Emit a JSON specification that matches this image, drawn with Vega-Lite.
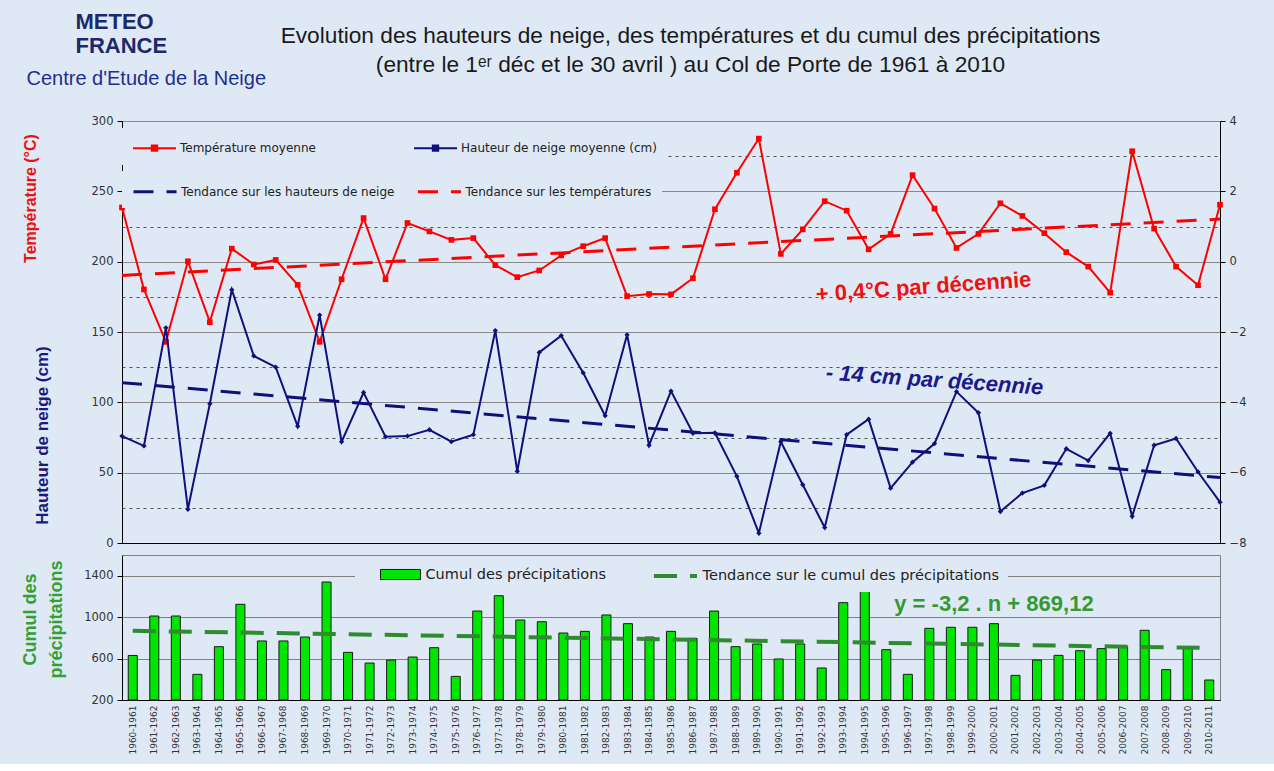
{
  "$schema": "https://vega.github.io/schema/vega-lite/v6.json",
  "background": "#dfe9f5",
  "padding": {"left": 20, "top": 9, "right": 28, "bottom": 9},
  "config": {
    "font": "Liberation Sans",
    "view": {"stroke": "#808080", "strokeWidth": 1},
    "axis": {"labelFont": "DejaVu Sans", "labelFontSize": 11.5, "labelColor": "#333333", "domainColor": "#000000", "tickColor": "#000000", "gridColor": "#8a8a8a", "tickSize": 5, "labelPadding": 4}
  },
  "datasets": {
    "seasons": [
      {"season": "1960-1961", "i": 0, "snow": 76, "temp": 1.54, "precip": 630},
      {"season": "1961-1962", "i": 1, "snow": 69, "temp": -0.79, "precip": 1011},
      {"season": "1962-1963", "i": 2, "snow": 153, "temp": -2.28, "precip": 1011},
      {"season": "1963-1964", "i": 3, "snow": 24, "temp": 0.01, "precip": 448},
      {"season": "1964-1965", "i": 4, "snow": 99, "temp": -1.72, "precip": 715},
      {"season": "1965-1966", "i": 5, "snow": 180, "temp": 0.37, "precip": 1124},
      {"season": "1966-1967", "i": 6, "snow": 133, "temp": -0.08, "precip": 770},
      {"season": "1967-1968", "i": 7, "snow": 125, "temp": 0.05, "precip": 770},
      {"season": "1968-1969", "i": 8, "snow": 83, "temp": -0.66, "precip": 808},
      {"season": "1969-1970", "i": 9, "snow": 162, "temp": -2.28, "precip": 1339},
      {"season": "1970-1971", "i": 10, "snow": 72, "temp": -0.5, "precip": 660},
      {"season": "1971-1972", "i": 11, "snow": 107, "temp": 1.24, "precip": 557},
      {"season": "1972-1973", "i": 12, "snow": 75.5, "temp": -0.5, "precip": 586},
      {"season": "1973-1974", "i": 13, "snow": 76, "temp": 1.1, "precip": 615},
      {"season": "1974-1975", "i": 14, "snow": 80.5, "temp": 0.86, "precip": 705},
      {"season": "1975-1976", "i": 15, "snow": 72, "temp": 0.62, "precip": 428},
      {"season": "1976-1977", "i": 16, "snow": 77, "temp": 0.67, "precip": 1059},
      {"season": "1977-1978", "i": 17, "snow": 151, "temp": -0.1, "precip": 1207},
      {"season": "1978-1979", "i": 18, "snow": 51, "temp": -0.44, "precip": 972},
      {"season": "1979-1980", "i": 19, "snow": 135.5, "temp": -0.25, "precip": 956},
      {"season": "1980-1981", "i": 20, "snow": 147.4, "temp": 0.18, "precip": 847},
      {"season": "1981-1982", "i": 21, "snow": 121, "temp": 0.44, "precip": 863},
      {"season": "1982-1983", "i": 22, "snow": 90.5, "temp": 0.67, "precip": 1021},
      {"season": "1983-1984", "i": 23, "snow": 148, "temp": -0.98, "precip": 937},
      {"season": "1984-1985", "i": 24, "snow": 69.5, "temp": -0.92, "precip": 808},
      {"season": "1985-1986", "i": 25, "snow": 108, "temp": -0.93, "precip": 863},
      {"season": "1986-1987", "i": 26, "snow": 78, "temp": -0.47, "precip": 795},
      {"season": "1987-1988", "i": 27, "snow": 78.3, "temp": 1.49, "precip": 1059},
      {"season": "1988-1989", "i": 28, "snow": 47.4, "temp": 2.53, "precip": 715},
      {"season": "1989-1990", "i": 29, "snow": 7, "temp": 3.5, "precip": 741},
      {"season": "1990-1991", "i": 30, "snow": 72, "temp": 0.22, "precip": 596},
      {"season": "1991-1992", "i": 31, "snow": 41.4, "temp": 0.92, "precip": 741},
      {"season": "1992-1993", "i": 32, "snow": 11, "temp": 1.72, "precip": 509},
      {"season": "1993-1994", "i": 33, "snow": 77, "temp": 1.45, "precip": 1140},
      {"season": "1994-1995", "i": 34, "snow": 88, "temp": 0.35, "precip": 1300},
      {"season": "1995-1996", "i": 35, "snow": 39, "temp": 0.79, "precip": 686},
      {"season": "1996-1997", "i": 36, "snow": 57.5, "temp": 2.46, "precip": 448},
      {"season": "1997-1998", "i": 37, "snow": 70.7, "temp": 1.51, "precip": 892},
      {"season": "1998-1999", "i": 38, "snow": 107.6, "temp": 0.39, "precip": 902},
      {"season": "1999-2000", "i": 39, "snow": 92.6, "temp": 0.79, "precip": 902},
      {"season": "2000-2001", "i": 40, "snow": 22.4, "temp": 1.66, "precip": 937},
      {"season": "2001-2002", "i": 41, "snow": 35.5, "temp": 1.3, "precip": 438},
      {"season": "2002-2003", "i": 42, "snow": 41, "temp": 0.81, "precip": 586},
      {"season": "2003-2004", "i": 43, "snow": 67, "temp": 0.27, "precip": 631},
      {"season": "2004-2005", "i": 44, "snow": 58.6, "temp": -0.14, "precip": 676},
      {"season": "2005-2006", "i": 45, "snow": 78, "temp": -0.88, "precip": 696},
      {"season": "2006-2007", "i": 46, "snow": 19, "temp": 3.14, "precip": 715},
      {"season": "2007-2008", "i": 47, "snow": 69.5, "temp": 0.94, "precip": 873},
      {"season": "2008-2009", "i": 48, "snow": 74.3, "temp": -0.14, "precip": 493},
      {"season": "2009-2010", "i": 49, "snow": 50.5, "temp": -0.67, "precip": 715},
      {"season": "2010-2011", "i": 50, "snow": 29, "temp": 1.62, "precip": 393}
    ],
    "trendTop": [
      {"i": 0, "snowTrend": 114, "tempTrend": -0.39},
      {"i": 50, "snowTrend": 46.5, "tempTrend": 1.21}
    ],
    "trendPrecip": [
      {"season": "1960-1961", "v": 868},
      {"season": "2010-2011", "v": 702}
    ],
    "noteTemp": [{"i": 36.5, "temp": -0.72, "label": "+ 0,4°C par décennie"}],
    "noteSnow": [{"i": 37, "snow": 115.8, "label": "- 14 cm  par décennie"}],
    "noteEq": [{"season": "2000-2001", "precip": 1129, "label": "y = -3,2 . n + 869,12"}]
  },
  "spacing": 12,
  "bounds": "flush",
  "resolve": {"scale": {"color": "independent", "stroke": "independent"}, "legend": {"color": "independent", "stroke": "independent"}},
  "vconcat": [
    {
      "width": 1098,
      "height": 422,
      "resolve": {"scale": {"y": "independent"}, "axis": {"x": "independent"}},
      "layer": [
        {
          "data": {"name": "seasons"},
          "mark": {"type": "line", "strokeWidth": 2, "point": {"shape": "square", "filled": true, "size": 32}},
          "encoding": {
            "x": {"field": "i", "type": "quantitative", "scale": {"domain": [0, 50], "nice": false, "zero": false},
              "axis": {"orient": "top", "labels": false, "ticks": false, "domain": false, "grid": false,
                "title": ["METEO", "FRANCE"], "titleFont": "Liberation Sans", "titleFontSize": 22, "titleFontWeight": "bold", "titleColor": "#1b2a6b",
                "titleX": -47, "titleY": -93, "titleAlign": "left", "titleBaseline": "alphabetic", "titleAngle": 0, "titleLineHeight": 24}},
            "y": {"field": "temp", "type": "quantitative", "scale": {"domain": [-8, 4], "nice": false, "zero": false},
              "axis": {"orient": "right", "values": [-8, -6, -4, -2, 0, 2, 4], "grid": false,
                "title": "Température (°C)", "titleFont": "Liberation Sans", "titleFontSize": 16, "titleFontWeight": "bold", "titleColor": "#ee1111",
                "titleX": -1190, "titleY": 77, "titleAngle": 270, "titleAlign": "center", "titleBaseline": "middle"}},
            "color": {
              "datum": "Température moyenne",
              "scale": {"domain": ["Température moyenne", "Hauteur de neige moyenne (cm)"], "range": ["#ff0000", "#10107a"]},
              "legend": {
                "title": null, "orient": "none", "legendX": 0, "legendY": 7, "columns": 2, "columnPadding": 94, "padding": 10,
                "fillColor": "#dfe9f5", "symbolSize": 324, "symbolStrokeWidth": 2, "labelOffset": 28, "labelLimit": 400,
                "symbolType": "M-1,0H3.78M1.09,-0.3H1.69V0.3H1.09Z",
                "labelFont": "DejaVu Sans", "labelFontSize": 12, "labelColor": "#222222"
              }
            }
          }
        },
        {
          "data": {"name": "seasons"},
          "mark": {"type": "line", "strokeWidth": 2, "point": {"shape": "diamond", "filled": true, "size": 28}},
          "encoding": {
            "x": {"field": "i", "type": "quantitative", "scale": {"domain": [0, 50], "nice": false, "zero": false},
              "axis": {"orient": "bottom", "labels": false, "ticks": false, "domain": true, "grid": false,
                "title": "Centre d'Etude de la Neige", "titleFont": "Liberation Sans", "titleFontSize": 20, "titleFontWeight": "normal", "titleColor": "#1f2f8f",
                "titleX": -96, "titleY": -459, "titleAlign": "left", "titleBaseline": "alphabetic", "titleAngle": 0}},
            "y": {"field": "snow", "type": "quantitative", "scale": {"domain": [0, 300], "nice": false, "zero": false},
              "axis": {"orient": "left", "values": [0, 25, 50, 75, 100, 125, 150, 175, 200, 225, 250, 275, 300],
                "labelExpr": "datum.value % 50 === 0 ? datum.label : ''",
                "grid": true,
                "gridDash": {"condition": {"test": "datum.value % 50 !== 0", "value": [3, 4]}, "value": []},
                "gridColor": {"condition": {"test": "datum.value % 50 !== 0", "value": "#555555"}, "value": "#8a8a8a"},
                "tickOpacity": {"condition": {"test": "datum.value % 50 !== 0", "value": 0}, "value": 1},
                "title": "Hauteur de neige (cm)", "titleFont": "Liberation Sans", "titleFontSize": 17, "titleFontWeight": "bold", "titleColor": "#1a1a7a",
                "titleX": -80, "titleY": 314, "titleAngle": 270, "titleAlign": "center", "titleBaseline": "middle"}},
            "color": {
              "datum": "Hauteur de neige moyenne (cm)",
              "scale": {"domain": ["Température moyenne", "Hauteur de neige moyenne (cm)"], "range": ["#ff0000", "#10107a"]}
            }
          }
        },
        {
          "data": {"name": "trendTop"},
          "mark": {"type": "line", "strokeWidth": 3, "strokeDash": [20, 13]},
          "encoding": {
            "x": {"field": "i", "type": "quantitative", "scale": {"domain": [0, 50], "nice": false, "zero": false}, "axis": null},
            "y": {"field": "snowTrend", "type": "quantitative", "scale": {"domain": [0, 300], "nice": false, "zero": false}, "axis": null},
            "stroke": {
              "datum": "Tendance sur les hauteurs de neige",
              "scale": {"domain": ["Tendance sur les hauteurs de neige", "Tendance sur les températures"], "range": ["#10107a", "#ff0000"]},
              "legend": {
                "title": null, "orient": "none", "legendX": 0, "legendY": 50, "columns": 2, "columnPadding": 16.5, "padding": 10,
                "fillColor": "#dfe9f5", "symbolSize": 324, "symbolStrokeWidth": 3, "symbolDash": [20, 13], "labelOffset": 28, "labelLimit": 400,
                "symbolType": "M-1,0H3.78",
                "labelFont": "DejaVu Sans", "labelFontSize": 12, "labelColor": "#222222"
              }
            }
          }
        },
        {
          "data": {"name": "trendTop"},
          "mark": {"type": "line", "strokeWidth": 3, "strokeDash": [20, 13]},
          "encoding": {
            "x": {"field": "i", "type": "quantitative", "scale": {"domain": [0, 50], "nice": false, "zero": false}, "axis": null},
            "y": {"field": "tempTrend", "type": "quantitative", "scale": {"domain": [-8, 4], "nice": false, "zero": false}, "axis": null},
            "stroke": {
              "datum": "Tendance sur les températures",
              "scale": {"domain": ["Tendance sur les hauteurs de neige", "Tendance sur les températures"], "range": ["#10107a", "#ff0000"]}
            }
          }
        },
        {
          "data": {"name": "noteTemp"},
          "mark": {"type": "text", "font": "Liberation Sans", "fontSize": 22, "fontWeight": "bold", "color": "#ee1111", "angle": 356, "align": "center", "baseline": "middle"},
          "encoding": {
            "x": {"field": "i", "type": "quantitative", "scale": {"domain": [0, 50], "nice": false, "zero": false},
              "axis": {"orient": "top", "labels": false, "ticks": false, "domain": false, "grid": false,
                "title": ["Evolution des hauteurs de neige, des températures et du cumul des précipitations", "(entre le 1ᵉʳ déc et le 30 avril ) au Col de Porte de 1961 à 2010"],
                "titleFont": "Liberation Sans", "titleFontSize": 22.7, "titleFontWeight": "normal", "titleColor": "#1a1a1a",
                "titleX": 568, "titleY": -79, "titleAlign": "center", "titleBaseline": "alphabetic", "titleAngle": 0, "titleLineHeight": 29}},
            "y": {"field": "temp", "type": "quantitative", "scale": {"domain": [-8, 4], "nice": false, "zero": false}, "axis": null},
            "text": {"field": "label"}
          }
        },
        {
          "data": {"name": "noteSnow"},
          "mark": {"type": "text", "font": "Liberation Sans", "fontSize": 22, "fontWeight": "bold", "fontStyle": "italic", "color": "#1a1a8c", "angle": 4, "align": "center", "baseline": "middle"},
          "encoding": {
            "x": {"field": "i", "type": "quantitative", "scale": {"domain": [0, 50], "nice": false, "zero": false}, "axis": null},
            "y": {"field": "snow", "type": "quantitative", "scale": {"domain": [0, 300], "nice": false, "zero": false}, "axis": null},
            "text": {"field": "label"}
          }
        }
      ]
    },
    {
      "width": 1098,
      "height": 145,
      "layer": [
        {
          "data": {"name": "seasons"},
          "mark": {"type": "bar", "stroke": "#1a1a1a", "strokeWidth": 1},
          "encoding": {
            "x": {"field": "season", "type": "nominal", "scale": {"paddingInner": 0.58, "paddingOuter": 0.29},
              "axis": {"title": null, "labelAngle": 270, "labelAlign": "right", "labelBaseline": "middle", "labelFont": "DejaVu Sans", "labelFontSize": 9, "labelPadding": 5, "labelLimit": 100, "ticks": false, "labelOverlap": false, "grid": false}},
            "y": {"field": "precip", "type": "quantitative", "scale": {"domain": [200, 1600], "nice": false, "zero": false, "clamp": true},
              "axis": {"values": [200, 600, 1000, 1400], "format": "d", "grid": true, "gridColor": "#808080",
                "title": ["Cumul des", "précipitations"], "titleFont": "Liberation Sans", "titleFontSize": 18, "titleFontWeight": "bold", "titleColor": "#33a033",
                "titleAngle": 270, "titleAlign": "center", "titleBaseline": "middle", "titleX": -92, "titleY": 64, "titleLineHeight": 26.5}},
            "color": {
              "datum": "Cumul des précipitations",
              "scale": {"domain": ["Cumul des précipitations"], "range": ["#00e600"]},
              "legend": {
                "title": null, "orient": "none", "legendX": 233, "legendY": 2, "padding": 8,
                "fillColor": "#dfe9f5", "symbolSize": 324, "labelOffset": 43.5, "labelLimit": 400,
                "symbolType": "M0.89,-0.56H5.33V0.56H0.89Z", "symbolStrokeColor": "#1a1a1a", "symbolStrokeWidth": 1,
                "labelFont": "DejaVu Sans", "labelFontSize": 14.5, "labelColor": "#222222"
              }
            }
          }
        },
        {
          "data": {"name": "trendPrecip"},
          "mark": {"type": "line", "strokeWidth": 4, "strokeDash": [23, 13]},
          "encoding": {
            "x": {"field": "season", "type": "nominal"},
            "y": {"field": "v", "type": "quantitative", "scale": {"domain": [200, 1600], "nice": false, "zero": false, "clamp": true}},
            "stroke": {
              "datum": "Tendance sur le cumul des précipitations",
              "scale": {"domain": ["Tendance sur le cumul des précipitations"], "range": ["#2e8b2e"]},
              "legend": {
                "title": null, "orient": "none", "legendX": 491, "legendY": 2, "padding": 8,
                "fillColor": "#dfe9f5", "symbolSize": 324, "labelOffset": 59.6, "labelLimit": 400,
                "symbolType": "M2.44,0H7.22", "symbolDash": [23, 13], "symbolStrokeWidth": 4,
                "labelFont": "DejaVu Sans", "labelFontSize": 14.5, "labelColor": "#222222"
              }
            }
          }
        },
        {
          "data": {"name": "noteEq"},
          "mark": {"type": "text", "font": "Liberation Sans", "fontSize": 22, "fontWeight": "bold", "color": "#339933", "align": "center", "baseline": "middle"},
          "encoding": {
            "x": {"field": "season", "type": "nominal"},
            "y": {"field": "precip", "type": "quantitative", "scale": {"domain": [200, 1600], "nice": false, "zero": false, "clamp": true}},
            "text": {"field": "label"}
          }
        }
      ]
    }
  ]
}
